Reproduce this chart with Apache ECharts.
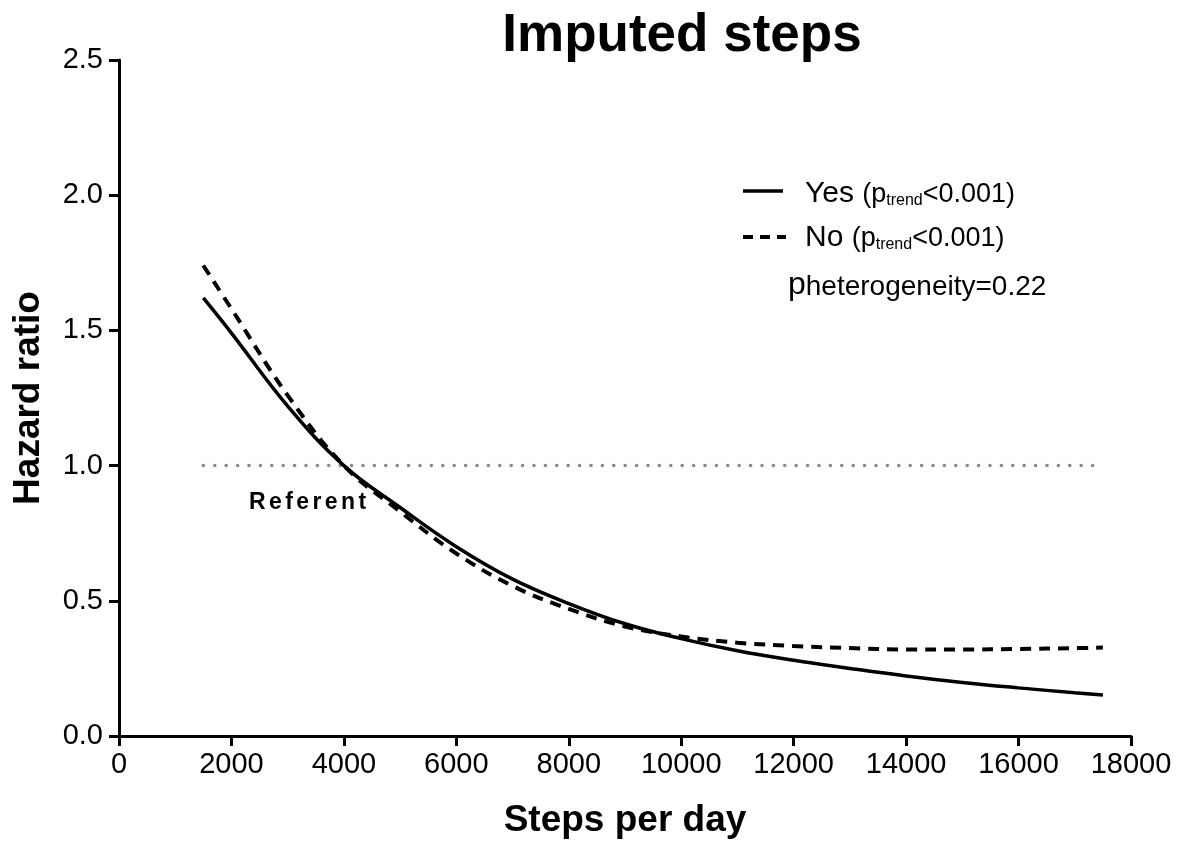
<!DOCTYPE html>
<html>
<head>
<meta charset="utf-8">
<title>Imputed steps</title>
<script src="https://cdn.jsdelivr.net/npm/echarts@6/dist/echarts.min.js"></script>
<style>
    html, body { margin: 0; padding: 0; background: #fff; }
    #main { width: 1180px; height: 842px; }
</style>
</head>
<body>
<div id="main"></div>
<script>
// 步数
var steps = [1500, 2000, 3000, 4000, 5000, 6000, 7000, 8000, 9000, 10000, 11000, 12000, 13000, 14000, 15000, 16000, 17000, 17500];
// Yes 曲线
var yesHR = [1.62, 1.49, 1.22, 1.0, 0.845, 0.70, 0.58, 0.49, 0.415, 0.36, 0.315, 0.28, 0.25, 0.222, 0.198, 0.178, 0.16, 0.152];
// No 曲线
var noHR = [1.74, 1.58, 1.26, 1.0, 0.83, 0.675, 0.555, 0.47, 0.405, 0.368, 0.345, 0.333, 0.325, 0.32, 0.32, 0.322, 0.325, 0.327];
// 参考线
var refSteps = [1500, 17500];
var refHR = [1, 1];

function pairs(xs, ys) {
    var out = [];
    for (var i = 0; i < xs.length; i++) {
        out.push([xs[i], ys[i]]);
    }
    return out;
}

var font = '"Liberation Sans", Arial, sans-serif';

// Referent 字间距
var refWord = 'Referent';
var refText = '';
for (var k = 0; k < refWord.length; k++) {
    refText += '{r|' + refWord.charAt(k) + '}';
}

//图例文字
var legendRich = {
    a: { fontSize: 30, fontFamily: font, fill: '#000', verticalAlign: 'bottom', lineHeight: 33 },
    b: { fontSize: 27, fontFamily: font, fill: '#000', verticalAlign: 'bottom', lineHeight: 32 },
    c: { fontSize: 16, fontFamily: font, fill: '#000', verticalAlign: 'bottom', lineHeight: 29 }
};

var chart = echarts.init(document.getElementById('main'));

chart.setOption({
    backgroundColor: '#fff',
    animation: false,
    title: {
        text: 'Imputed steps',
        left: 677,
        top: 5,
        textAlign: 'center',
        textStyle: { fontFamily: font, fontSize: 53, fontWeight: 'bold', color: '#000' }
    },
    grid: { left: 119, right: 49, top: 60, bottom: 106, outerBoundsMode: 'none' },
    xAxis: {
        type: 'value',
        min: 0,
        max: 18000,
        interval: 2000,
        name: 'Steps per day',
        nameLocation: 'middle',
        nameGap: 66,
        nameTextStyle: { fontFamily: font, fontSize: 37, fontWeight: 'bold', color: '#000' },
        splitLine: { show: false },
        axisLine: { lineStyle: { color: '#000', width: 3 } },
        axisTick: { length: 10, lineStyle: { color: '#000', width: 3 } },
        axisLabel: {
            fontFamily: font, fontSize: 29, color: '#000', margin: 14,
            formatter: function (v) { return String(v); }
        }
    },
    yAxis: {
        type: 'value',
        min: 0,
        max: 2.5,
        interval: 0.5,
        name: 'Hazard ratio',
        nameLocation: 'middle',
        nameGap: 72,
        nameTextStyle: { fontFamily: font, fontSize: 37, fontWeight: 'bold', color: '#000' },
        splitLine: { show: false },
        axisLine: { show: true, lineStyle: { color: '#000', width: 3 } },
        axisTick: { show: true, length: 10, lineStyle: { color: '#000', width: 3 } },
        axisLabel: {
            fontFamily: font, fontSize: 29, color: '#000', margin: 16,
            formatter: function (v) { return v.toFixed(1); }
        }
    },
    series: [
        {
            name: 'Referent',
            type: 'line',
            data: pairs(refSteps, refHR),
            symbol: 'none',
            lineStyle: { color: '#888', width: 3.5, type: [0.1, 11.3], cap: 'round' }
        },
        {
            name: 'Yes',
            type: 'line',
            data: pairs(steps, yesHR),
            smooth: 0.4,
            symbol: 'none',
            lineStyle: { color: '#000', width: 3.5 }
        },
        {
            name: 'No',
            type: 'line',
            data: pairs(steps, noHR),
            smooth: 0.4,
            symbol: 'none',
            lineStyle: { color: '#000', width: 4, type: [11, 8] }
        }
    ],
    graphic: [
        // 图例
        { type: 'line', shape: { x1: 743, y1: 191, x2: 783, y2: 191 }, style: { stroke: '#000', lineWidth: 3.5 } },
        { type: 'line', shape: { x1: 743, y1: 237, x2: 786, y2: 237 }, style: { stroke: '#000', lineWidth: 4, lineDash: [10, 7] } },
        {
            type: 'text', x: 805, y: 192,
            style: { text: '{a|Yes }{b|(p}{c|trend}{b|<0.001)}', fontFamily: font, verticalAlign: 'middle', rich: legendRich }
        },
        {
            type: 'text', x: 805, y: 236,
            style: { text: '{a|No }{b|(p}{c|trend}{b|<0.001)}', fontFamily: font, verticalAlign: 'middle', rich: legendRich }
        },
        {
            type: 'text', x: 788, y: 284,
            style: {
                text: '{a|p}{b|heterogeneity}{b|=0.22}',
                fontFamily: font,
                verticalAlign: 'middle',
                rich: {
                    a: { fontSize: 32, fontFamily: font, fill: '#000', verticalAlign: 'bottom', lineHeight: 35 },
                    b: { fontSize: 28, fontFamily: font, fill: '#000', verticalAlign: 'bottom', lineHeight: 33 }
                }
            }
        },
        {
            type: 'text', left: 249, top: 491,
            style: {
                text: refText,
                fontFamily: font,
                rich: { r: { fontSize: 23, fontWeight: 'bold', fontFamily: font, fill: '#000', padding: [0, 1.7, 0, 1.7] } }
            }
        }
    ]
});
</script>
</body>
</html>
